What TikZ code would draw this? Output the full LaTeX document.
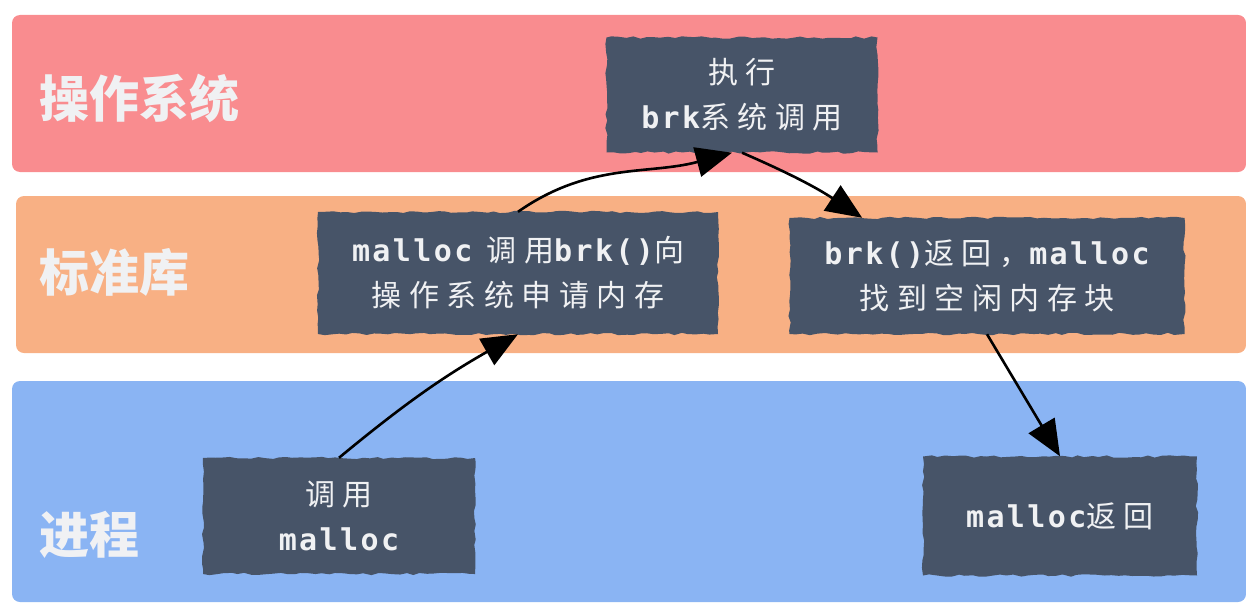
\documentclass[tikz,border=0pt]{standalone}
\usepackage{fontspec}
\usetikzlibrary{arrows.meta,decorations.pathmorphing}
\newfontfamily\cjk[LetterSpace=25]{Noto Sans CJK SC}
\newfontfamily\cjkhead{Noto Sans CJK SC}
\newfontfamily\lat[LetterSpace=8]{DejaVu Sans Mono}
\definecolor{osred}{RGB}{249,140,143}
\definecolor{liborange}{RGB}{248,176,132}
\definecolor{procblue}{RGB}{138,180,243}
\definecolor{slate}{RGB}{71,84,104}
\definecolor{chalk}{RGB}{240,241,243}

\begin{document}
\begin{tikzpicture}[x=1pt,y=-1pt,
  stepbox/.style={fill=slate,text=chalk,align=center,inner sep=0pt,
    decorate,decoration={random steps,segment length=7pt,amplitude=1.2pt},
    font=\cjk\fontsize{30}{45}\selectfont},
  layer/.style={anchor=west,text=chalk,font=\cjkhead\bfseries\fontsize{50}{50}\selectfont},
  flow/.style={line width=2.6pt,-{Triangle[length=36pt,width=30pt]}}]
  \useasboundingbox (0,0) rectangle (1246,602);
  % the three layers
  \fill[osred,rounded corners=8pt] (12,15) rectangle (1246,172);
  \fill[liborange,rounded corners=8pt] (16,196) rectangle (1246,353);
  \fill[procblue,rounded corners=8pt] (12,381) rectangle (1246,602);
  \node[layer] (os) at (36,98) {操作系统};
  \node[layer] (lib) at (36,272) {标准库};
  \node[layer] (proc) at (36,535) {进程};
  % steps
  \node[stepbox,minimum width=271pt,minimum height=115pt] (exec) at (742,95)
    {执行\\{\lat\bfseries brk}系统调用};
  \node[stepbox,minimum width=400pt,minimum height=122pt] (req) at (518,273)
    {{\lat\bfseries malloc} 调用{\lat\bfseries brk()}向\\操作系统申请内存};
  \node[stepbox,minimum width=395pt,minimum height=116pt] (ret) at (987,276)
    {{\lat\bfseries brk()}返回，{\lat\bfseries malloc}\\找到空闲内存块};
  \node[stepbox,minimum width=272pt,minimum height=116pt] (call) at (339,516)
    {调用\\{\lat\bfseries malloc}};
  \node[stepbox,minimum width=274pt,minimum height=119pt] (mret) at (1060,516)
    {{\lat\bfseries malloc}返回};
  % arrows
  \draw[flow] (call.north) to[bend left=5] (req.south);
  \draw[flow] (req.north) to[out=35,in=195] ([xshift=-10pt]exec.south);
  \draw[flow] (exec.south) to[bend left=5] (ret.155);
  \draw[flow] (ret.south) -- (mret.north);
\end{tikzpicture}
\end{document}
